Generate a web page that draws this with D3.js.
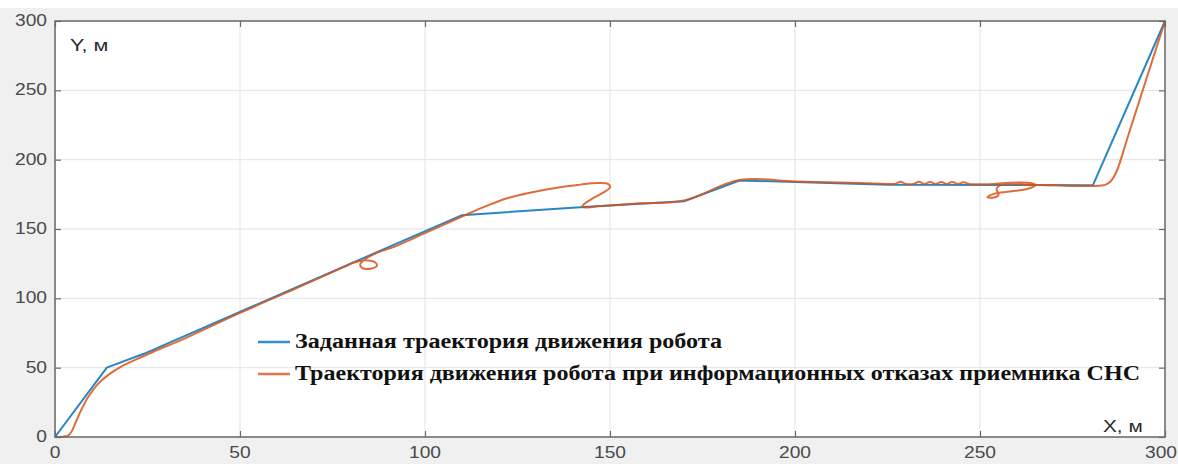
<!DOCTYPE html>
<html>
<head>
<meta charset="utf-8">
<script src="https://cdn.jsdelivr.net/npm/d3@7"></script>
<style>
  html, body { margin: 0; padding: 0; background: #ffffff; }
  svg { display: block; }
</style>
</head>
<body>
<svg id="chart" width="1178" height="464"></svg>
<script>
// ---- data ----
const xTicks = [0, 50, 100, 150, 200, 250, 300];
const yTicks = [0, 50, 100, 150, 200, 250, 300];

// Заданная траектория (reference path)
const refX = [0, 14, 24, 110, 144, 170, 185, 225, 280.5, 300];
const refY = [0, 50, 60, 160, 166, 170, 185, 182, 181.5, 300];

// Траектория при отказах СНС (actual path)
const actX = [0, 2, 3.5, 4.5, 5.5, 7, 9, 11.5, 14.5, 18, 22, 27, 35, 50, 65, 78,
  81, 84, 86.5, 87, 85.5, 83, 82.5, 84, 87, 92, 100, 110,
  116, 122, 128, 136, 142, 146.5, 149.5, 150, 148, 145, 143, 142.5, 144, 147, 150, 158, 170,
  185, 200, 215, 225, 227, 228.5, 230, 232, 233.5, 235, 236.5, 238, 239.5, 241, 242.5, 244, 245.5, 247,
  252, 258, 263, 265, 263, 258, 254, 252, 253.5, 255, 254.5, 256, 262, 270, 280,
  284, 285.5, 287, 290, 295, 300];
const actY = [0, 0.2, 1, 4, 10, 19, 29, 38, 45, 51, 56, 62, 71, 89.5, 107, 122.5,
  126, 127.5, 126, 123.5, 121.5, 122, 124.5, 128.5, 132.8, 137.5, 147, 159,
  166, 172, 176, 180, 182, 183.2, 182.5, 180, 176, 171.5, 168, 166, 165.5, 166.5, 167, 168.5, 170.5,
  185.3, 184.3, 183.3, 182.5, 182.5, 184, 182.5, 182.4, 184, 182.5, 183.9, 182.5, 183.9, 182.5, 183.9, 182.5, 183.8, 182.5,
  182.3, 183.3, 183.3, 181.8, 179, 177, 175.5, 173, 172.6, 174.5, 179, 182, 182, 181.5, 181,
  182, 185, 192, 216.9, 258.5, 300];

const seriesNames = ["Заданная траектория движения робота",
  "Траектория движения робота при информационных отказах приемника СНС"];
const seriesColors = ["#0072BD", "#D95319"];

// ---- layout ----
const svg = d3.select("#chart");
const W = 1178, H = 464;
const pL = 55, pR = 1165, pT = 21, pB = 437;

svg.append("rect").attr("x", 0).attr("y", 8).attr("width", W).attr("height", H - 8).attr("fill", "#f0f0f0");
svg.append("rect").attr("x", pL).attr("y", pT).attr("width", pR - pL).attr("height", pB - pT).attr("fill", "#ffffff");

const x = d3.scaleLinear().domain([0, 300]).range([pL, pR]);
const y = d3.scaleLinear().domain([0, 300]).range([pB, pT]);

// grid
const grid = svg.append("g").attr("stroke", "#e3e3e3").attr("stroke-width", 1);
xTicks.forEach(t => grid.append("line").attr("x1", x(t)).attr("x2", x(t)).attr("y1", pT).attr("y2", pB));
yTicks.forEach(t => grid.append("line").attr("x1", pL).attr("x2", pR).attr("y1", y(t)).attr("y2", y(t)));

// lines
const refData = refX.map((v, i) => [v, refY[i]]);
const actData = actX.map((v, i) => [v, actY[i]]);

svg.append("path").datum(refData)
  .attr("d", d3.line().x(d => x(d[0])).y(d => y(d[1])))
  .attr("fill", "none").attr("stroke", seriesColors[0]).attr("stroke-width", 2)
  .attr("stroke-linejoin", "round").attr("opacity", 0.85);
svg.append("path").datum(actData)
  .attr("d", d3.line().x(d => x(d[0])).y(d => y(d[1])).curve(d3.curveCatmullRom.alpha(0.5)))
  .attr("fill", "none").attr("stroke", seriesColors[1]).attr("stroke-width", 2)
  .attr("stroke-linejoin", "round").attr("opacity", 0.85);

// axes (box with inward ticks)
const axG = svg.append("g");
const axisColor = "#6a6a6a";
axG.append("rect").attr("x", pL).attr("y", pT).attr("width", pR - pL).attr("height", pB - pT)
  .attr("fill", "none").attr("stroke", axisColor).attr("stroke-width", 1.5);

const axes = [
  [d3.axisBottom(x).tickValues(xTicks).tickSize(-6).tickFormat(""), `translate(0,${pB})`],
  [d3.axisTop(x).tickValues(xTicks).tickSize(-6).tickFormat(""), `translate(0,${pT})`],
  [d3.axisLeft(y).tickValues(yTicks).tickSize(-6).tickFormat(""), `translate(${pL},0)`],
  [d3.axisRight(y).tickValues(yTicks).tickSize(-6).tickFormat(""), `translate(${pR},0)`]
];
axes.forEach(([a, tr]) => {
  const g = axG.append("g").attr("transform", tr).call(a);
  g.select(".domain").remove();
  g.selectAll(".tick line").attr("stroke", axisColor).attr("stroke-width", 1.2);
});

// tick labels
const labFont = "'Liberation Sans', Arial, sans-serif";
xTicks.forEach((t, i) => {
  const last = i === xTicks.length - 1;
  svg.append("text").attr("transform", `translate(${last ? 1177 : x(t)},458) scale(1.2,1)`)
    .attr("text-anchor", last ? "end" : "middle").attr("font-family", labFont).attr("font-size", 16)
    .attr("fill", "#4a4a4a").text(t);
});
yTicks.forEach(t => {
  svg.append("text").attr("transform", `translate(47,${y(t) + 5}) scale(1.2,1)`)
    .attr("text-anchor", "end").attr("font-family", labFont).attr("font-size", 16)
    .attr("fill", "#4a4a4a").text(t);
});

// axis names
svg.append("text").attr("transform", "translate(70,51) scale(1.35,1)")
  .attr("font-family", labFont).attr("font-size", 16).attr("fill", "#2a2a2a").text("Y, м");
svg.append("text").attr("transform", "translate(1103,432) scale(1.3,1)")
  .attr("font-family", labFont).attr("font-size", 16).attr("fill", "#2a2a2a").text("X, м");

// legend
const legY = [342, 374];
const legTextLen = [427, 845];
seriesNames.forEach((name, i) => {
  svg.append("line").attr("x1", 258).attr("x2", 290).attr("y1", legY[i]).attr("y2", legY[i])
    .attr("stroke", seriesColors[i]).attr("stroke-width", 2.5).attr("opacity", 0.8);
  svg.append("text").attr("x", 295).attr("y", legY[i] + 6)
    .attr("font-family", "'Liberation Serif', 'Times New Roman', serif").attr("font-weight", "bold")
    .attr("font-size", 20).attr("fill", "#111")
    .attr("textLength", legTextLen[i]).attr("lengthAdjust", "spacingAndGlyphs")
    .text(name);
});
</script>
</body>
</html>
